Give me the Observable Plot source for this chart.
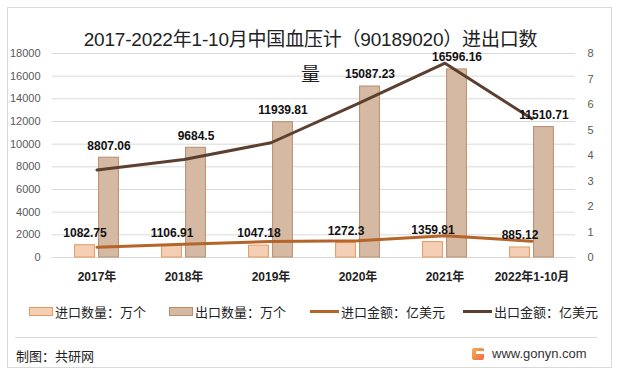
<!DOCTYPE html>
<html><head><meta charset="utf-8">
<script src="https://cdn.jsdelivr.net/npm/d3@7"></script>
<script src="https://cdn.jsdelivr.net/npm/@observablehq/plot@0.6"></script>
<style>
body{margin:0;background:#fff;}
#wrap{position:relative;width:619px;height:376px;overflow:hidden;background:#fff;font-family:"Liberation Sans","Noto Sans CJK SC",sans-serif;}
#frame{position:absolute;left:7px;top:7px;width:605px;height:361px;border:1px solid #d9d9d9;box-sizing:border-box;}
#chart{position:absolute;left:0;top:0;}
.title{position:absolute;left:0;width:621px;text-align:center;font-family:"Liberation Sans","Noto Sans CJK SC",sans-serif;font-size:19px;letter-spacing:-0.2px;color:#222;white-space:nowrap;}
#legend{position:absolute;top:302px;left:0;width:619px;height:18px;font-family:"Noto Sans CJK SC",sans-serif;font-size:13px;color:#222;}
.li{position:absolute;top:0;display:flex;align-items:center;height:18px;}
.sw{width:24px;height:9px;box-sizing:border-box;margin-right:2px;}
.ln{width:29px;height:3px;margin-right:2px;}
#sep{position:absolute;left:15px;top:337px;width:582px;height:1px;background:#d9d9d9;}
#cap{position:absolute;left:16px;top:346px;font-family:"Noto Sans CJK SC",sans-serif;font-size:13px;color:#222;}
#site{position:absolute;left:472px;top:346px;font-family:"Liberation Sans",sans-serif;font-size:13px;color:#333;display:flex;align-items:center;}
#logo{width:12px;height:12px;background:linear-gradient(135deg,#f6b04a,#ef6a4a);margin-right:8px;border-radius:2px;position:relative;}
#logo:after{content:"";position:absolute;left:4px;top:3px;width:8px;height:3px;background:#fff;}
</style></head>
<body>
<div id="wrap">
<div id="frame"></div>
<div id="chart"></div>
<div class="title" style="top:24px;">2017-2022年1-10月中国血压计（90189020）进出口数</div>
<div class="title" style="top:59px;">量</div>
<div id="legend">
 <div class="li" style="left:29px"><div class="sw" style="background:#f5cfb5;border:1px solid #e39a5c"></div>进口数量：万个</div>
 <div class="li" style="left:169px"><div class="sw" style="background:#d6b9a3;border:1px solid #b98c6c"></div>出口数量：万个</div>
 <div class="li" style="left:310px"><div class="ln" style="background:#b5652a"></div>进口金额：亿美元</div>
 <div class="li" style="left:463px"><div class="ln" style="background:#5b4030"></div>出口金额：亿美元</div>
</div>
<div id="sep"></div>
<div id="cap">制图：共研网</div>
<div id="site"><div id="logo"></div>www.gonyn.com</div>
</div>
<script>
const years = ["2017年","2018年","2019年","2020年","2021年","2022年1-10月"];
const importQty = [1082.75,1106.91,1047.18,1272.3,1359.81,885.12];
const exportQty = [8807.06,9684.5,11939.81,15087.23,16596.16,11510.71];
const importAmt = [0.40,0.52,0.63,0.66,0.85,0.64];
const exportAmt = [3.43,3.84,4.50,6.03,7.62,5.44];
const leftTicks = [0,2000,4000,6000,8000,10000,12000,14000,16000,18000];
const rightTicks = [0,1,2,3,4,5,6,7,8];

const k = 18000/8;
const rows = years.map((y,i)=>({year:y, iq:importQty[i], eq:exportQty[i], ia:importAmt[i]*k, ea:exportAmt[i]*k}));

const chart = Plot.plot({
  width:619, height:295,
  marginLeft:52, marginRight:44, marginTop:53, marginBottom:38,
  style:{fontFamily:"Liberation Sans, Noto Sans CJK SC, sans-serif", fontSize:"11px", color:"#595959", background:"transparent"},
  x:{type:"band", domain:years, padding:0, label:null},
  y:{domain:[0,18000], label:null},
  marks:[
    Plot.gridY(leftTicks, {stroke:"#d9d9d9", strokeOpacity:1}),
    Plot.axisY(leftTicks, {anchor:"left", tickSize:0, tickPadding:12, label:null, tickFormat:d=>String(d)}),
    Plot.axisY(rightTicks.map(v=>v*k), {anchor:"right", tickSize:0, tickPadding:12, label:null, tickFormat:d=>String(Math.round(d/k))}),
    Plot.axisX({tickSize:0, tickPadding:15, label:null, fontWeight:"bold", fontSize:12, fill:"#222"}),
    Plot.barY(rows, {x:"year", y:"iq", dx:-12, insetLeft:33.6, insetRight:33.6, fill:"#f5cfb5", stroke:"#e39a5c", strokeWidth:1}),
    Plot.barY(rows, {x:"year", y:"eq", dx:12, insetLeft:33.6, insetRight:33.6, fill:"#d6b9a3", stroke:"#b98c6c", strokeWidth:1}),
    Plot.lineY(rows, {x:"year", y:"ia", stroke:"#b5652a", strokeWidth:3}),
    Plot.lineY(rows, {x:"year", y:"ea", stroke:"#5b4030", strokeWidth:3}),
    Plot.text(rows, {x:"year", y:"iq", dx:-12, dy:-12, text:d=>String(d.iq), fontWeight:"bold", fontSize:12, fill:"#111"}),
    Plot.text(rows, {x:"year", y:"eq", dx:12, dy:-12, text:d=>String(d.eq), fontWeight:"bold", fontSize:12, fill:"#111"})
  ]
});
document.getElementById("chart").appendChild(chart);
</script>
</body></html>
